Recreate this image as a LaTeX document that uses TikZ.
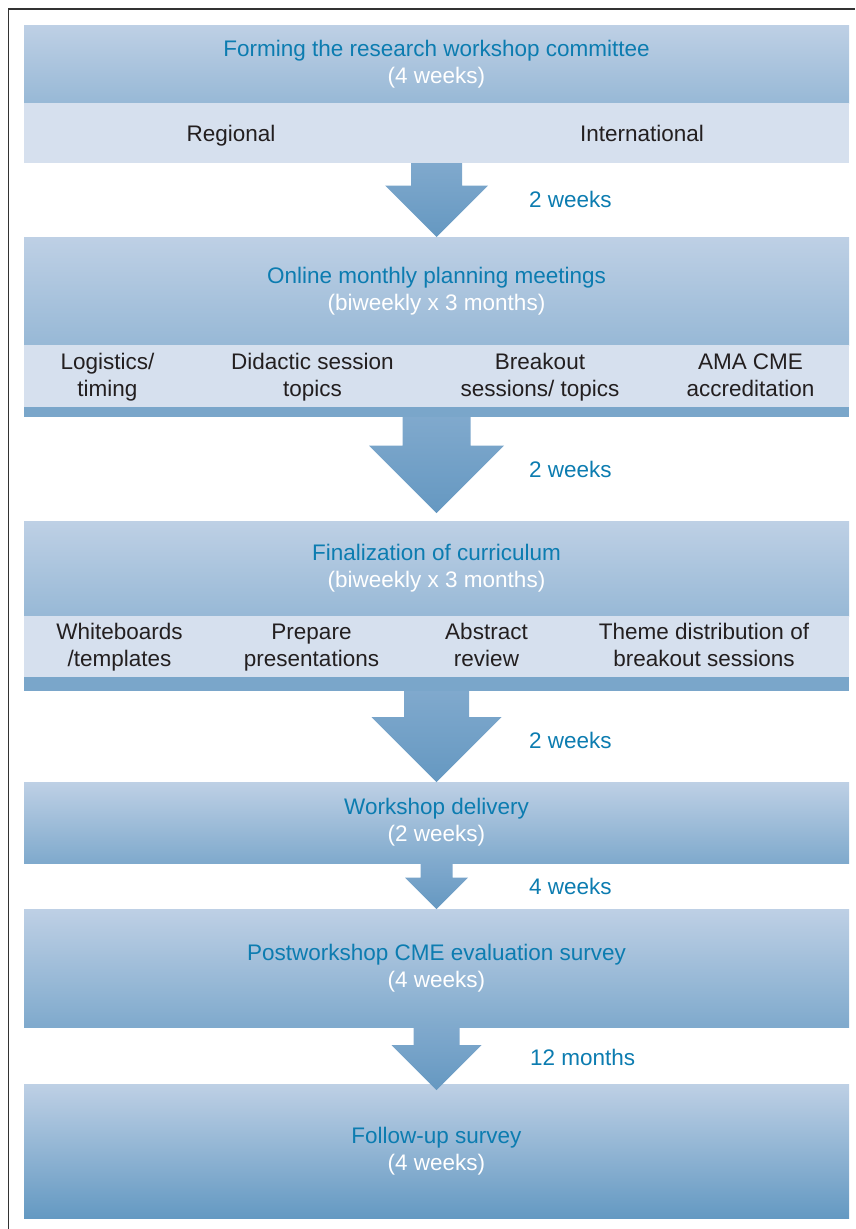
\documentclass[tikz,border=0pt]{standalone}
\usepackage{fontspec}
\setmainfont{Liberation Sans}
\usetikzlibrary{calc}
\definecolor{boxtop}{HTML}{BED0E5}
\definecolor{boxdeep}{HTML}{6499C2}
\definecolor{bandfill}{HTML}{D6E0EE}
\definecolor{stripfill}{HTML}{7AA6CA}
\definecolor{arrtop}{HTML}{80A9CD}
\definecolor{arrbot}{HTML}{6598C1}
\definecolor{titleblue}{HTML}{0C7CB0}
\definecolor{bandink}{HTML}{231F20}

\newcommand{\blockarrow}[5]{%
  \shade[arrowfill] ($(#1.south)+(-#3,0)$) -- ($(#1.south)+(#3,0)$)
    -- ($(#2.north)+(#3,#5-#4)$) -- ($(#2.north)+(#4,#5-#4)$)
    -- ($(#2.north)+(0,#5)$)
    -- ($(#2.north)+(-#4,#5-#4)$) -- ($(#2.north)+(-#3,#5-#4)$) -- cycle;}
\newcommand{\stagetext}[2]{\textcolor{titleblue}{#1}\\\textcolor{white}{#2}}

\begin{document}
\begin{tikzpicture}[x=1pt,y=-1pt,every node/.style={font=\fontsize{22.5}{27}\selectfont},stage/.style={rectangle,outer sep=0pt,minimum width=825,top color=boxtop,bottom color=boxdeep!#1!boxtop,align=center},band/.style={rectangle,outer sep=0pt,minimum width=825,fill=bandfill},strip/.style={rectangle,outer sep=0pt,minimum width=825,fill=stripfill},bandtext/.style={text=bandink,align=center,inner sep=0pt,text depth=5pt},gap/.style={text=titleblue,anchor=west,inner sep=0pt},arrowfill/.style={top color=arrtop,bottom color=arrbot},frame/.style={draw=black!80,line width=1.2pt}]
\def\cx{436.5};
\def\gx{529};

\useasboundingbox (0,0) rectangle (855,1229);
\draw[frame] (8.5,1229) -- (8.5,9) -- (855,9);

\node[stage=43,minimum height=78] (B1) at (\cx,64) {\stagetext{Forming the research workshop committee}{(4 weeks)}};
\node[band,minimum height=60] (R1) at (\cx,133) {};
\node[bandtext] (R1a) at (231,135.5) {Regional};
\node[bandtext] (R1b) at (642,135.5) {International};

\node[stage=43,minimum height=108] (B2) at (\cx,291) {\stagetext{Online monthly planning meetings}{(biweekly x 3 months)}};
\node[band,minimum height=62] (R2) at (\cx,376) {};
\node[strip,minimum height=10] (S2) at (\cx,412) {};
\node[bandtext] (R2a) at (107.5,377.5) {Logistics/\\timing};
\node[bandtext] (R2b) at (312.5,377.5) {Didactic session\\topics};
\node[bandtext] (R2c) at (540,377.5) {Breakout\\sessions/ topics};
\node[bandtext] (R2d) at (750.5,377.5) {AMA CME\\accreditation};

\node[stage=43,minimum height=95] (B3) at (\cx,568.5) {\stagetext{Finalization of curriculum}{(biweekly x 3 months)}};
\node[band,minimum height=61] (R3) at (\cx,646.5) {};
\node[strip,minimum height=14] (S3) at (\cx,684) {};
\node[bandtext] (R3a) at (119.5,647.5) {Whiteboards\\/templates};
\node[bandtext] (R3b) at (311.5,647.5) {Prepare\\presentations};
\node[bandtext] (R3c) at (486.5,647.5) {Abstract\\review};
\node[bandtext] (R3d) at (704,647.5) {Theme distribution of\\breakout sessions};

\node[stage=70,minimum height=81] (B4) at (\cx,822.5) {\stagetext{Workshop delivery}{(2 weeks)}};
\node[stage=70,minimum height=118] (B5) at (\cx,968) {\stagetext{Postworkshop CME evaluation survey}{(4 weeks)}};
\node[stage=100,minimum height=134] (B6) at (\cx,1151) {\stagetext{Follow-up survey}{(4 weeks)}};

\blockarrow{R1}{B2}{25.5}{51.5}{0}
\blockarrow{S2}{B3}{34}{67.5}{-8}
\blockarrow{S3}{B4}{32.5}{65}{0}
\blockarrow{B4}{B5}{16}{31.5}{0}
\blockarrow{B5}{B6}{23}{45}{6}

\node[gap] (G1) at (\gx,199) {2 weeks};
\node[gap] (G2) at (\gx,469) {2 weeks};
\node[gap] (G3) at (\gx,740) {2 weeks};
\node[gap] (G4) at (\gx,886) {4 weeks};
\node[gap] (G5) at (530,1057) {12 months};
\end{tikzpicture}
\end{document}
